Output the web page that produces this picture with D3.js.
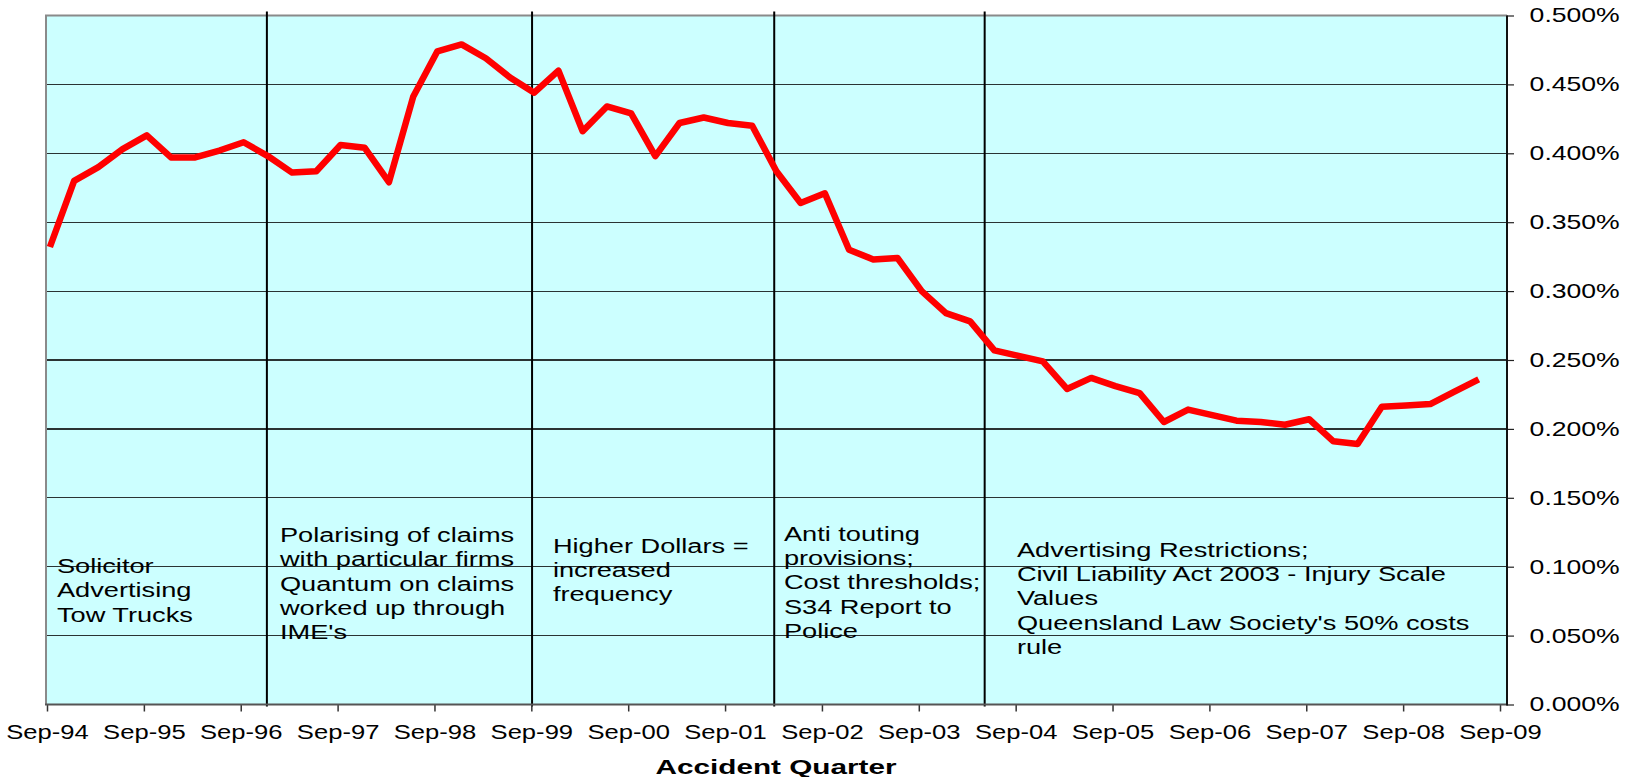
<!DOCTYPE html>
<html>
<head>
<meta charset="utf-8">
<script src="https://cdn.jsdelivr.net/npm/d3@7"></script>
<style>
  body { margin: 0; background: #fff; }
  text { font-family: Arial, "Liberation Sans", sans-serif; fill: #000; }
</style>
</head>
<body>
<div id="chart"></div>
<script>
// Data
const quarters = [
  "Sep-94", "Dec-94", "Mar-95", "Jun-95", "Sep-95", "Dec-95", "Mar-96", "Jun-96",
  "Sep-96", "Dec-96", "Mar-97", "Jun-97", "Sep-97", "Dec-97", "Mar-98", "Jun-98",
  "Sep-98", "Dec-98", "Mar-99", "Jun-99", "Sep-99", "Dec-99", "Mar-00", "Jun-00",
  "Sep-00", "Dec-00", "Mar-01", "Jun-01", "Sep-01", "Dec-01", "Mar-02", "Jun-02",
  "Sep-02", "Dec-02", "Mar-03", "Jun-03", "Sep-03", "Dec-03", "Mar-04", "Jun-04",
  "Sep-04", "Dec-04", "Mar-05", "Jun-05", "Sep-05", "Dec-05", "Mar-06", "Jun-06",
  "Sep-06", "Dec-06", "Mar-07", "Jun-07", "Sep-07", "Dec-07", "Mar-08", "Jun-08",
  "Sep-08", "Dec-08", "Mar-09", "Jun-09"
]

// claim frequency, % of exposure
const frequency = [
  0.332, 0.380, 0.390, 0.403, 0.413, 0.397, 0.397, 0.402,
  0.408, 0.398, 0.386, 0.387, 0.406, 0.404, 0.379, 0.441,
  0.474, 0.479, 0.469, 0.455, 0.444, 0.460, 0.416, 0.434,
  0.429, 0.398, 0.422, 0.426, 0.422, 0.420, 0.387, 0.364,
  0.371, 0.330, 0.323, 0.324, 0.300, 0.284, 0.278, 0.257,
  0.253, 0.249, 0.229, 0.237, 0.231, 0.226, 0.205, 0.214,
  0.210, 0.206, 0.205, 0.203, 0.207, 0.191, 0.189, 0.216,
  0.217, 0.218, 0.227, 0.236
]

const yearTicks = [
  "Sep-94", "Sep-95", "Sep-96", "Sep-97", "Sep-98", "Sep-99", "Sep-00", "Sep-01",
  "Sep-02", "Sep-03", "Sep-04", "Sep-05", "Sep-06", "Sep-07", "Sep-08", "Sep-09"
]
const yTicks = [0, 0.05, 0.1, 0.15, 0.2, 0.25, 0.3, 0.35, 0.4, 0.45, 0.5]

// quarter positions (index from Sep-94) of the policy changes
const eventQuarters = [9.08, 20.03, 30.03, 38.72]

const noteLines = [
  ["Solicitor", "Advertising", "Tow Trucks"],
  ["Polarising of claims", "with particular firms", "Quantum on claims", "worked up through", "IME's"],
  ["Higher Dollars =", "increased", "frequency"],
  ["Anti touting", "provisions;", "Cost thresholds;", "S34 Report to", "Police"],
  ["Advertising Restrictions;", "Civil Liability Act 2003 - Injury Scale", "Values", "Queensland Law Society's 50% costs", "rule"]
]
const noteQuarter = [0.41, 9.62, 20.89, 30.43, 40.05]
const noteValue = [0.0956, 0.1181, 0.1102, 0.1189, 0.1073]

function draw() {
  // Dimensions
  const dimensions = {
    width: 1634,
    height: 777,
    left: 46,
    right: 1507,
    top: 15.5,
    bottom: 704.5
  }

  const svg = d3.select("#chart")
    .append("svg")
    .attr("width", dimensions.width)
    .attr("height", dimensions.height)

  const xScale = d3.scaleLinear()
    .domain([0, 60])
    .range([47, 1500])

  const yScale = d3.scaleLinear()
    .domain([0, 0.5])
    .range([dimensions.bottom, dimensions.top])

  // plot background
  svg.append("rect")
    .attr("x", dimensions.left)
    .attr("y", dimensions.top)
    .attr("width", dimensions.right - dimensions.left)
    .attr("height", dimensions.bottom - dimensions.top)
    .attr("fill", "#ccffff")

  // gridlines
  svg.append("g")
    .selectAll("line")
    .data(yTicks.slice(1, -1))
    .join("line")
    .attr("x1", dimensions.left)
    .attr("x2", dimensions.right)
    .attr("y1", d => yScale(d))
    .attr("y2", d => yScale(d))
    .attr("stroke", "#2a3333")
    .attr("stroke-width", 1.2)
    .attr("shape-rendering", "crispEdges")

  // plot border (left / top grey)
  svg.append("path")
    .attr("d", `M${dimensions.left},${dimensions.bottom}V${dimensions.top}H${dimensions.right}`)
    .attr("fill", "none")
    .attr("stroke", "#8a8a8a")
    .attr("stroke-width", 2)

  // event lines
  svg.append("g")
    .selectAll("line")
    .data(eventQuarters)
    .join("line")
    .attr("x1", d => xScale(d))
    .attr("x2", d => xScale(d))
    .attr("y1", yScale(0.5) - 4)
    .attr("y2", yScale(0) + 2)
    .attr("stroke", "#000")
    .attr("stroke-width", 2)

  // notes
  const noteGroups = svg.append("g")
    .selectAll("g")
    .data(noteLines)
    .join("g")
    .attr("transform", (d, i) => `translate(${xScale(noteQuarter[i])}, ${yScale(noteValue[i])}) scale(1.36, 1)`)

  noteGroups.selectAll("text")
    .data(d => d)
    .join("text")
    .attr("x", 0)
    .attr("y", (d, i) => i * 24.4)
    .style("font-size", "20px")
    .text(d => d)

  // series line
  const line = d3.line()
    .x((d, i) => xScale(i + 0.12))
    .y(d => yScale(d))

  svg.append("path")
    .datum(frequency)
    .attr("d", line)
    .attr("fill", "none")
    .attr("stroke", "#ff0000")
    .attr("stroke-width", 6.5)
    .attr("stroke-linejoin", "round")

  // x axis
  const xAxis = d3.axisBottom(xScale)
    .tickValues(d3.range(0, 61, 4))
    .tickFormat((d, i) => yearTicks[i])
    .tickSize(7)

  const xAxisGroup = svg.append("g")
    .attr("transform", `translate(0, ${dimensions.bottom})`)
    .call(xAxis)

  xAxisGroup.select(".domain").remove()
  xAxisGroup.selectAll(".tick line").attr("stroke", "#333").attr("stroke-width", 1.5)
  xAxisGroup.selectAll(".tick text")
    .attr("y", 20)
    .attr("transform", "scale(1.28, 1)")
    .style("font-size", "20px")
    .attr("fill", "#000")

  svg.append("line")
    .attr("x1", dimensions.left - 1)
    .attr("x2", dimensions.right)
    .attr("y1", dimensions.bottom)
    .attr("y2", dimensions.bottom)
    .attr("stroke", "#555")
    .attr("stroke-width", 2)

  // y axis (right)
  const yAxis = d3.axisRight(yScale)
    .tickValues(yTicks)
    .tickFormat(d => d.toFixed(3) + "%")
    .tickSize(7)

  const yAxisGroup = svg.append("g")
    .attr("transform", `translate(${dimensions.right}, 0)`)
    .call(yAxis)

  yAxisGroup.select(".domain").remove()
  yAxisGroup.selectAll(".tick line").attr("stroke", "#222").attr("stroke-width", 1.2)
  yAxisGroup.selectAll(".tick text")
    .attr("x", 17)
    .attr("transform", "scale(1.33, 1)")
    .style("font-size", "20px")
    .attr("fill", "#000")

  svg.append("line")
    .attr("x1", dimensions.right)
    .attr("x2", dimensions.right)
    .attr("y1", dimensions.top)
    .attr("y2", dimensions.bottom + 1)
    .attr("stroke", "#111")
    .attr("stroke-width", 2)

  // axis title
  svg.append("text")
    .attr("transform", `translate(776, 774) scale(1.45, 1)`)
    .attr("text-anchor", "middle")
    .style("font-size", "20.5px")
    .style("font-weight", "bold")
    .text("Accident Quarter")
}

draw()
</script>
</body>
</html>
